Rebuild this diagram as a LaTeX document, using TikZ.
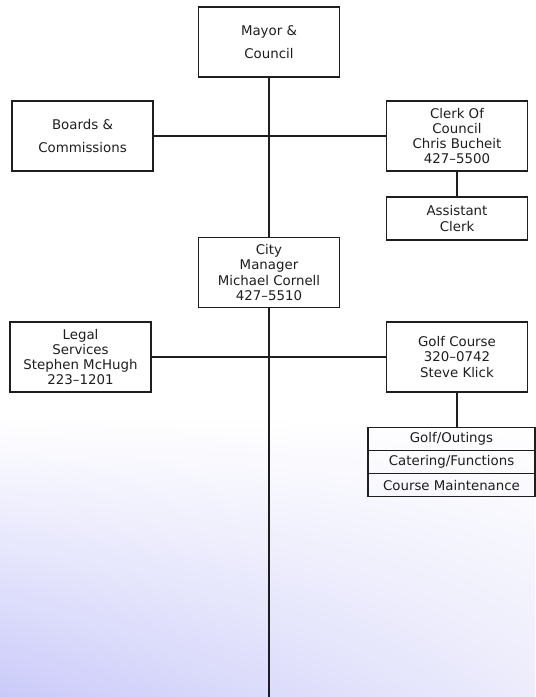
\documentclass[tikz,border=0pt]{standalone}
\usepackage{fontspec}
\setmainfont{DejaVu Sans}
\usetikzlibrary{shadings}
\definecolor{lavender}{RGB}{202,202,250}
\definecolor{lavlight}{RGB}{236,236,252}
\definecolor{ink}{RGB}{30,30,30}
\tikzset{
    office/.style = {rectangle, draw=ink, text=ink, line width=0.6pt, align=center, inner sep=0pt,
        minimum width=2.82cm, minimum height=1.4cm, font=\fontsize{7.6}{8.6}\selectfont},
    wide/.style = {font=\fontsize{7.6}{13}\selectfont},
    unit/.style = {rectangle, draw=ink, text=ink, line width=0.6pt, inner sep=0pt,
        minimum width=3.34cm, minimum height=0.466cm, font=\fontsize{7.6}{8.6}\selectfont},
    link/.style = {draw=ink, line width=0.6pt}
}
\begin{document}
\begin{tikzpicture}
    % background
    \fill[white] (0,0) rectangle (10.7,13.94);
    \shade[lower left=lavender, lower right=lavlight, upper left=white, upper right=white]
        (0,0) rectangle (10.7,5.6);
    \useasboundingbox (0,0) rectangle (10.7,13.94);

    \draw(5.38, 13.1) node [office, wide](mayor){Mayor \&\\Council};
    \draw(1.65, 11.22) node [office, wide](boards){Boards \&\\Commissions};
    \draw(9.14, 11.22) node [office](clerk){Clerk Of\\Council\\Chris Bucheit\\427--5500};
    \draw(9.14, 9.57) node [office, minimum height=0.86cm](assist){Assistant\\Clerk};
    \draw(5.38, 8.49) node [office](city){City\\Manager\\Michael Cornell\\427--5510};
    \draw(1.61, 6.8) node [office](legal){Legal\\Services\\Stephen McHugh\\223--1201};
    \draw(9.14, 6.8) node [office](golf){Golf Course\\320--0742\\Steve Klick};

    \draw(9.03, 5.166) node [unit](outings){Golf/Outings};
    \draw(9.03, 4.70) node [unit](catering){Catering/Functions};
    \draw(9.03, 4.234) node [unit](maint){Course Maintenance};

    \coordinate (bottom) at (5.38, 0);

    \draw[link] (mayor) -- (city);
    \draw[link] (city) -- (bottom);
    \draw[link] (boards) -- (clerk);
    \draw[link] (clerk) -- (assist);
    \draw[link] (legal) -- (golf);
    \draw[link] (golf.south) -- (golf.south |- outings.north);
\end{tikzpicture}
\end{document}
